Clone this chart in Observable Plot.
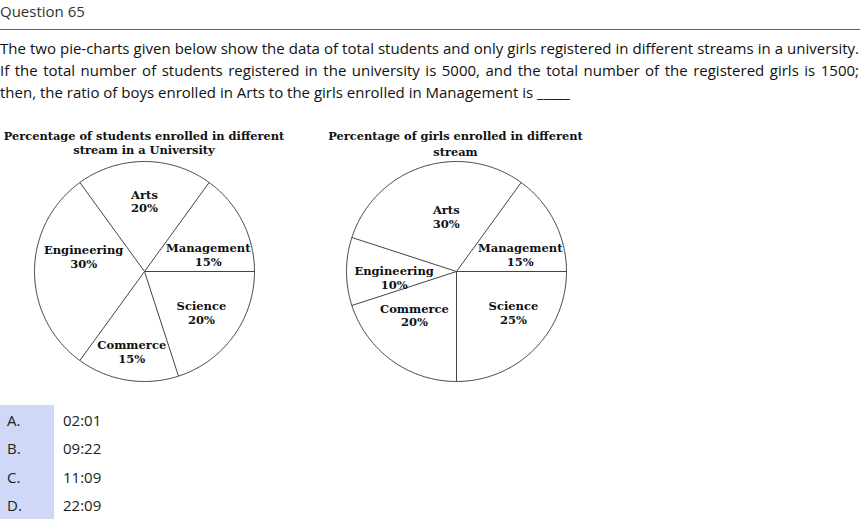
<!DOCTYPE html>
<html>
<head>
<meta charset="utf-8">
<script src="https://cdn.jsdelivr.net/npm/d3@7"></script>
<script src="https://cdn.jsdelivr.net/npm/@observablehq/plot@0.6"></script>
<style>
  html, body { margin: 0; padding: 0; background: #fff; }
  body { width: 860px; height: 519px; position: relative; overflow: hidden; font-family: "Open Sans", sans-serif; }
  .abs { position: absolute; }
  #q { left: 0; top: 0.5px; font-size: 15px; line-height: 20px; color: #333; }
  #rule { left: 0; top: 29px; width: 860px; height: 1px; background: #2a6ebb; }
  .para { left: 0; width: 859px; font-size: 15px; line-height: 22px; height: 22px; color: #111;
          text-align: justify; text-align-last: justify; white-space: nowrap; }
  .para.last { text-align-last: left; }
  .ttl { font-family: "DejaVu Serif", serif; font-weight: bold; font-size: 11.4px; line-height: 15px;
         color: #111; text-align: center; width: 320px; white-space: nowrap; }
  #optbg { left: 0; top: 405px; width: 54px; height: 114px; background: #cfd8f7; }
  .opt { font-size: 15px; line-height: 20px; color: #222; }
</style>
</head>
<body>
<script>
// ---------- data ----------
const questionLabel = "Question 65";
const questionLines = [
  "The two pie-charts given below show the data of total students and only girls registered in different streams in a university.",
  "If the total number of students registered in the university is 5000, and the total number of the registered girls is 1500;",
  "then, the ratio of boys enrolled in Arts to the girls enrolled in Management is _____"
];
const streams = ["Management", "Arts", "Engineering", "Commerce", "Science"];
const studentShare = [15, 20, 30, 15, 20];
const girlShare = [15, 30, 10, 20, 25];
const studentTitle = ["Percentage of students enrolled in different", "stream in a University"];
const girlTitle = ["Percentage of girls enrolled in different", "stream"];
const optionLetters = ["A.", "B.", "C.", "D."];
const optionValues = ["02:01", "09:22", "11:09", "22:09"];

// ---------- layout (not data) ----------
const R = 110;
// label placement: [angle shift from slice middle (deg), radius fraction]
const labelLayoutStudents = { Management: [-12, 0.60], Arts: [0, 0.64], Engineering: [-14, 0.57], Commerce: [0, 0.74], Science: [0, 0.64] };
const labelLayoutGirls = { Management: [-12, 0.60], Arts: [-7.5, 0.51], Engineering: [5.7, 0.57], Commerce: [-8, 0.55], Science: [9, 0.64] };

const body = document.body;
function addDiv(cls, text, style) {
  const d = document.createElement("div");
  d.className = "abs " + cls;
  d.textContent = text;
  Object.assign(d.style, style || {});
  body.appendChild(d);
  return d;
}

addDiv("", questionLabel).id = "q";
addDiv("", "").id = "rule";
const paraTops = [36.7, 58.7, 80.7];
questionLines.forEach((t, i) => addDiv("para" + (i === questionLines.length - 1 ? " last" : ""), t, { top: paraTops[i] + "px" }));

function slices(values) {
  let acc = 0;
  const total = d3.sum(values);
  return values.map((v, i) => {
    const a0 = acc / total * 360;
    acc += v;
    const a1 = acc / total * 360;
    return { stream: streams[i], value: v, a0, a1 };
  });
}

function pie(values, layout) {
  const s = slices(values);
  const rad = (a) => a * Math.PI / 180;
  const circle = d3.range(0, 361, 1).map(a => ({ x: R * Math.cos(rad(a)), y: R * Math.sin(rad(a)) }));
  const edges = s.map(d => ({ x2: R * Math.cos(rad(d.a0)), y2: R * Math.sin(rad(d.a0)) }));
  const labels = s.map(d => {
    const [shift, rf] = layout[d.stream];
    const a = rad((d.a0 + d.a1) / 2 + shift);
    return { ...d, x: rf * R * Math.cos(a), y: rf * R * Math.sin(a), label: `${d.stream}\n${d.value}%` };
  });
  return Plot.plot({
    width: 250, height: 250,
    margin: 0,
    x: { domain: [-125, 125], axis: null },
    y: { domain: [-125, 125], axis: null },
    style: { background: "transparent", overflow: "visible" },
    marks: [
      Plot.line(circle, { x: "x", y: "y", stroke: "#444", strokeWidth: 1 }),
      Plot.link(edges, { x1: 0, y1: 0, x2: "x2", y2: "y2", stroke: "#444", strokeWidth: 1 }),
      Plot.text(labels, { x: "x", y: "y", text: "label", fontFamily: "DejaVu Serif", fontWeight: "bold",
                          fontSize: 11.5, lineHeight: 1.2, fill: "#111", lineAnchor: "middle", textAnchor: "middle" })
    ]
  });
}

const p1 = pie(studentShare, labelLayoutStudents);
p1.style.position = "absolute"; p1.style.left = "19px"; p1.style.top = "145.5px";
body.appendChild(p1);
const p2 = pie(girlShare, labelLayoutGirls);
p2.style.position = "absolute"; p2.style.left = "330.7px"; p2.style.top = "146px";
body.appendChild(p2);

addDiv("ttl", studentTitle[0], { left: (144 - 160) + "px", top: "129.3px" });
addDiv("ttl", studentTitle[1], { left: (144 - 160) + "px", top: "142.6px" });
addDiv("ttl", girlTitle[0], { left: (455.5 - 160) + "px", top: "129.3px" });
addDiv("ttl", girlTitle[1], { left: (455.5 - 160) + "px", top: "145.3px" });

addDiv("", "").id = "optbg";
const optTops = [410, 438.2, 466.5, 495];
optionLetters.forEach((l, i) => {
  addDiv("opt", l, { left: "7px", top: optTops[i] + "px" });
  addDiv("opt", optionValues[i], { left: "63px", top: optTops[i] + "px" });
});
</script>
</body>
</html>
